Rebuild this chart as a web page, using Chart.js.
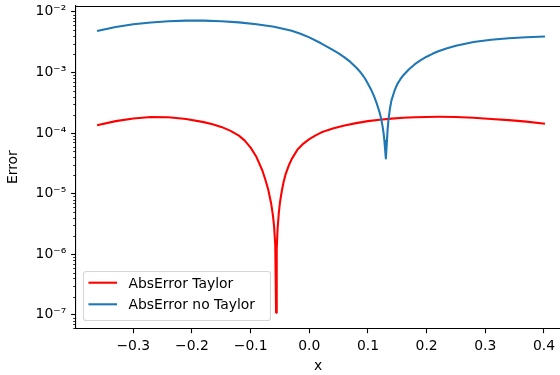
<!DOCTYPE html>
<html><head><meta charset="utf-8">
<script src="https://cdn.jsdelivr.net/npm/chart.js@4/dist/chart.umd.min.js"></script>
<style>html,body{margin:0;padding:0;background:#fff;overflow:hidden}canvas{display:block}</style>
</head><body><canvas id="c" width="560" height="375"></canvas>
<script>
const xTaylor = [-0.36,-0.33,-0.30,-0.27,-0.24,-0.21,-0.18,-0.165,-0.15,-0.135,-0.12,-0.11,-0.10,-0.09,-0.08,-0.075,-0.07,-0.065,-0.062,-0.06,-0.058,-0.0566,-0.0555,-0.054,-0.052,-0.05,-0.047,-0.044,-0.04,-0.035,-0.03,-0.02,-0.01,0.0,0.01,0.02,0.03,0.04,0.06,0.08,0.10,0.12,0.14,0.16,0.18,0.20,0.22,0.25,0.28,0.31,0.34,0.37,0.40];
const errTaylor = [1.353e-4,1.575e-4,1.744e-4,1.839e-4,1.819e-4,1.705e-4,1.516e-4,1.400e-4,1.264e-4,1.098e-4,9.08e-5,7.51e-5,5.76e-5,4.02e-5,2.41e-5,1.712e-5,1.171e-5,6.89e-6,4.37e-6,2.88e-6,1.40e-6,1.09e-7,1.20e-6,2.67e-6,4.71e-6,7.15e-6,1.085e-5,1.528e-5,2.15e-5,2.91e-5,3.72e-5,5.34e-5,6.71e-5,7.96e-5,9.08e-5,1.018e-4,1.107e-4,1.189e-4,1.332e-4,1.460e-4,1.575e-4,1.661e-4,1.731e-4,1.785e-4,1.825e-4,1.846e-4,1.853e-4,1.839e-4,1.785e-4,1.712e-4,1.636e-4,1.545e-4,1.432e-4];
const xNoTaylor = [-0.36,-0.33,-0.30,-0.27,-0.24,-0.21,-0.18,-0.15,-0.12,-0.09,-0.06,-0.03,-0.015,0.0,0.02,0.04,0.05,0.06,0.07,0.08,0.085,0.09,0.095,0.10,0.105,0.11,0.115,0.12,0.123,0.125,0.127,0.128,0.129,0.1305,0.132,0.1335,0.135,0.1375,0.14,0.145,0.15,0.155,0.16,0.17,0.18,0.19,0.20,0.21,0.22,0.235,0.25,0.28,0.31,0.34,0.37,0.40];
const errNoTaylor = [4.88e-3,5.61e-3,6.24e-3,6.68e-3,6.99e-3,7.18e-3,7.18e-3,7.02e-3,6.71e-3,6.26e-3,5.68e-3,4.90e-3,4.35e-3,3.79e-3,3.03e-3,2.353e-3,2.062e-3,1.778e-3,1.493e-3,1.207e-3,1.069e-3,9.33e-4,7.96e-4,6.53e-4,5.30e-4,4.14e-4,3.08e-4,2.17e-4,1.636e-4,1.278e-4,9.44e-5,7.51e-5,5.76e-5,3.80e-5,6.46e-5,1.141e-4,1.667e-4,2.53e-4,3.43e-4,4.91e-4,6.41e-4,7.66e-4,8.92e-4,1.132e-3,1.368e-3,1.593e-3,1.819e-3,2.031e-3,2.241e-3,2.51e-3,2.76e-3,3.18e-3,3.47e-3,3.67e-3,3.81e-3,3.92e-3];
const xTickValues = [-0.3,-0.2,-0.1,0,0.1,0.2,0.3,0.4];
const xTickLabels = ['\u22120.3','\u22120.2','\u22120.1','0.0','0.1','0.2','0.3','0.4'];
const yTickValues = [1e-7,1e-6,1e-5,1e-4,1e-3,1e-2];
const yTickLabels = ['10\u207B\u2077','10\u207B\u2076','10\u207B\u2075','10\u207B\u2074','10\u207B\u00B3','10\u207B\u00B2'];
const seriesLabels = ['AbsError Taylor','AbsError no Taylor'];
const seriesColors = ['#ff0000','#1f77b4'];
const xTitle = 'x';
const yTitle = 'Error';

const FONT = "'DejaVu Sans'";
const FS = 13.9;
Chart.defaults.font.family = FONT;
Chart.defaults.font.size = FS;
Chart.defaults.color = '#000';

const toPts = (xs, ys) => xs.map((x, i) => ({x: x, y: ys[i]}));

const framePlugin = {
  id: 'frame',
  afterDraw(chart) {
    const ctx = chart.ctx, a = chart.chartArea, y = chart.scales.y;
    ctx.save();
    ctx.strokeStyle = '#000';
    ctx.lineWidth = 1.1;
    ctx.beginPath(); ctx.moveTo(a.left, a.top + 0.5); ctx.lineTo(a.right, a.top + 0.5); ctx.stroke();
    ctx.lineWidth = 0.83;
    for (let e = -8; e <= -2; e++) {
      for (let k = 2; k <= 9; k++) {
        const v = k * Math.pow(10, e);
        if (v < y.min || v > y.max) continue;
        const py = Math.round(y.getPixelForValue(v)) + 0.5;
        ctx.beginPath(); ctx.moveTo(a.left - 2.8, py); ctx.lineTo(a.left, py); ctx.stroke();
      }
    }
    // legend
    const bx = 83.5, by = 271.5, bw = 187, bh = 49, r = 2.8;
    ctx.beginPath();
    ctx.moveTo(bx + r, by);
    ctx.arcTo(bx + bw, by, bx + bw, by + bh, r);
    ctx.arcTo(bx + bw, by + bh, bx, by + bh, r);
    ctx.arcTo(bx, by + bh, bx, by, r);
    ctx.arcTo(bx, by, bx + bw, by, r);
    ctx.closePath();
    ctx.fillStyle = 'rgba(255,255,255,0.8)';
    ctx.fill();
    ctx.strokeStyle = 'rgba(204,204,204,0.8)';
    ctx.lineWidth = 1.1;
    ctx.stroke();
    const rowY = [282.7, 304.3];
    chart.data.datasets.forEach((ds, i) => {
      ctx.strokeStyle = ds.borderColor;
      ctx.lineWidth = 2.08;
      ctx.lineCap = 'square';
      ctx.beginPath(); ctx.moveTo(89.5, rowY[i]); ctx.lineTo(116, rowY[i]); ctx.stroke();
      ctx.fillStyle = '#000';
      ctx.font = FS + 'px ' + FONT;
      ctx.textBaseline = 'middle';
      ctx.textAlign = 'left';
      ctx.fillText(ds.label, 128.5, rowY[i] + 1.5);
    });
    ctx.restore();
  }
};

new Chart(document.getElementById('c'), {
  type: 'line',
  data: {
    datasets: [
      {label: seriesLabels[0], data: toPts(xTaylor, errTaylor), borderColor: seriesColors[0], backgroundColor: seriesColors[0],
       borderWidth: 2.08, pointRadius: 0, tension: 0, fill: false, borderCapStyle: 'square', borderJoinStyle: 'round', order: 1},
      {label: seriesLabels[1], data: toPts(xNoTaylor, errNoTaylor), borderColor: seriesColors[1], backgroundColor: seriesColors[1],
       borderWidth: 2.08, pointRadius: 0, tension: 0, fill: false, borderCapStyle: 'square', borderJoinStyle: 'round', order: 0}
    ]
  },
  options: {
    responsive: false,
    animation: false,
    devicePixelRatio: 1,
    layout: {padding: {top: 6, left: 0, right: 0, bottom: 0}},
    plugins: {legend: {display: false}, tooltip: {enabled: false}},
    scales: {
      x: {
        type: 'linear', min: -0.3977, max: 0.4274,
        afterBuildTicks: s => { s.ticks = xTickValues.map(v => ({value: v})); },
        afterFit: s => { s.height = 46.7; s.paddingLeft = 0; s.paddingRight = 0; },
        ticks: {autoSkip: false, maxRotation: 0, padding: 4.9, color: '#000', callback: (v, i) => xTickLabels[i]},
        grid: {drawOnChartArea: false, drawTicks: true, tickLength: 4.9, tickWidth: 1.1, tickColor: '#000'},
        border: {display: true, color: '#000', width: 1.1},
        title: {display: true, text: xTitle, color: '#000', padding: {top: 0, bottom: 0}}
      },
      y: {
        type: 'logarithmic', min: 6.28e-8, max: 1.25e-2,
        afterBuildTicks: s => { s.ticks = yTickValues.map(v => ({value: v})); },
        afterFit: s => { s.width = 76; s.paddingTop = 0; s.paddingBottom = 0; },
        ticks: {autoSkip: false, padding: 4.9, color: '#000', callback: (v, i) => yTickLabels[i]},
        grid: {drawOnChartArea: false, drawTicks: true, tickLength: 4.9, tickWidth: 1.1, tickColor: '#000'},
        border: {display: true, color: '#000', width: 1.1},
        title: {display: true, text: yTitle, color: '#000', padding: {top: 5, bottom: 5}}
      }
    }
  },
  plugins: [framePlugin]
});
</script>
</body></html>
